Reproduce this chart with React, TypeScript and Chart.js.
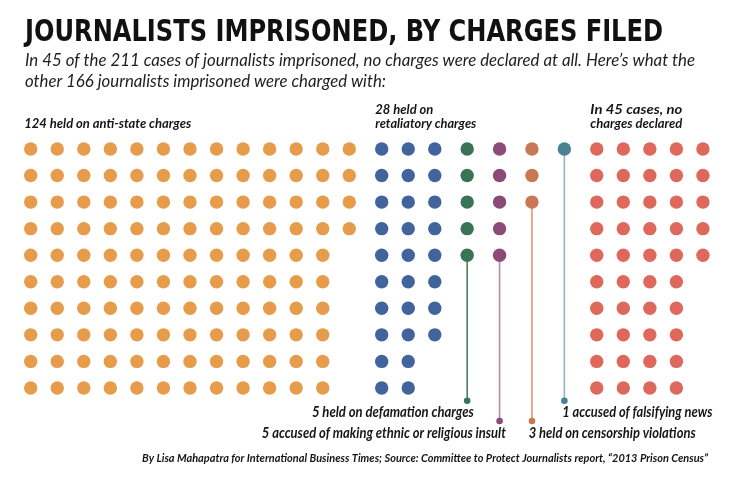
import React, { useEffect, useRef } from "react";
import { Chart, registerables } from "chart.js";
Chart.register(...registerables);

// ---- data ----
const groupNames = ["anti-state", "retaliatory", "defamation", "ethnic or religious insult", "censorship", "falsifying news", "no charges declared"];
const groupCounts = [124, 28, 5, 5, 3, 1, 45];
const groupColors = ["#E69C4B", "#42649C", "#3A7456", "#8C4A76", "#C97856", "#4B8093", "#DE685C"];
const rowsPerColumn = 10;

// call-outs (group index, text, label line 0/1, side)
const calloutGroups = [2, 3, 4, 5];
const calloutTexts = ["5 held on defamation charges", "5 accused of making ethnic or religious insult", "3 held on censorship violations", "1 accused of falsifying news"];
const calloutLevels = [0, 1, 1, 0];
const calloutSides = ["left", "left", "right", "right"];
const calloutLineColors = ["#4E8062", "#B68BA9", "#E2946F", "#92B5C1"];

// header labels above groups
const headerGroups = [0, 1, 6];
const headerTexts = [["124 held on anti-state charges"], ["28 held on", "retaliatory charges"], ["In 45 cases, no", "charges declared"]];

const titleText = "JOURNALISTS IMPRISONED, BY CHARGES FILED";
const subtitleLines = [
  "In 45 of the 211 cases of journalists imprisoned, no charges were declared at all. Here\u2019s what the",
  "other 166 journalists imprisoned were charged with:",
];
const footerText = "By Lisa Mahapatra for International Business Times; Source: Committee to Protect Journalists report, \u201C2013 Prison Census\u201D";

// ---- layout (units = dot pitch) ----
const PITCH = 26.55;
const X0 = 30.7 / PITCH;
const GAP = 1.22;
const Y0 = 149 / PITCH;
const LEVEL_ROWS = [9.48, 10.245];

function groupStarts(): number[] {
  const starts: number[] = [];
  let x = X0;
  groupCounts.forEach((c) => {
    starts.push(x);
    const cols = Math.ceil(c / rowsPerColumn);
    x += cols - 1 + GAP;
  });
  return starts;
}

function fitText(ctx: CanvasRenderingContext2D, text: string, x: number, y: number, width: number | null, align: string) {
  ctx.save();
  const w = ctx.measureText(text).width;
  const s = width ? width / w : 1;
  ctx.translate(x, y);
  ctx.scale(s, 1);
  ctx.textAlign = "left";
  ctx.textBaseline = "alphabetic";
  ctx.fillText(text, align === "right" ? -w : 0, 0);
  ctx.restore();
}

export default function App() {
  const ref = useRef<HTMLCanvasElement>(null);
  useEffect(() => {
    document.body.style.margin = "0";
    const starts = groupStarts();
    const dotSets: any[] = groupCounts.map((count, g) => {
      const pts = [] as { x: number; y: number }[];
      for (let i = 0; i < count; i++) {
        const col = Math.floor(i / rowsPerColumn);
        const row = i % rowsPerColumn;
        pts.push({ x: starts[g] + col, y: Y0 + row });
      }
      return {
        label: groupNames[g],
        data: pts,
        pointRadius: 6.7,
        pointHoverRadius: 6.7,
        pointBackgroundColor: groupColors[g],
        pointBorderWidth: 0,
        showLine: false,
      };
    });
    const lineSets: any[] = calloutGroups.map((g, k) => {
      const count = groupCounts[g];
      return {
        label: groupNames[g] + " line",
        data: [
          { x: starts[g], y: Y0 + (count - 1) },
          { x: starts[g], y: Y0 + LEVEL_ROWS[calloutLevels[k]] },
        ],
        showLine: true,
        borderColor: calloutLineColors[k],
        borderWidth: 1.6,
        pointRadius: [0, 3.3],
        pointHoverRadius: [0, 3.3],
        pointBackgroundColor: groupColors[g],
        pointBorderWidth: 0,
      };
    });

    const textPlugin = {
      id: "texts",
      afterDraw(chart: any) {
        const ctx = chart.ctx as CanvasRenderingContext2D;
        const xs = chart.scales.x;
        ctx.save();
        ctx.fillStyle = "#111";
        ctx.font = 'bold 30px "Liberation Sans Narrow", "DejaVu Sans Condensed", sans-serif';
        fitText(ctx, titleText, 25, 41, 638, "left");

        ctx.fillStyle = "#1e1e1e";
        ctx.font = 'italic 16.5px Lato, "Open Sans", sans-serif';
        fitText(ctx, subtitleLines[0], 25, 66, 670, "left");
        fitText(ctx, subtitleLines[1], 25, 86.5, 361, "left");

        ctx.fillStyle = "#161616";
        ctx.font = 'italic bold 13px Lato, "Open Sans", sans-serif';
        const headerWidths = [[167], [58, 101], [92, 92]];
        headerGroups.forEach((g, k) => {
          const lx = xs.getPixelForValue(starts[g]) - 6.4;
          const lines = headerTexts[k];
          if (lines.length === 1) {
            fitText(ctx, lines[0], lx, 128, headerWidths[k][0], "left");
          } else {
            fitText(ctx, lines[0], lx, 113.5, headerWidths[k][0], "left");
            fitText(ctx, lines[1], lx, 128, headerWidths[k][1], "left");
          }
        });

        ctx.font = 'italic bold 14.5px Lato, "Open Sans", sans-serif';
        const calloutWidths = [162, 244, 167, 150];
        const calloutOffsets = [6.7, 6.3, -3.3, -2];
        const baselines = [417, 438];
        calloutGroups.forEach((g, k) => {
          const px = xs.getPixelForValue(starts[g]) + calloutOffsets[k];
          fitText(ctx, calloutTexts[k], px, baselines[calloutLevels[k]], calloutWidths[k], calloutSides[k] === "left" ? "right" : "left");
        });

        ctx.font = 'italic bold 11px Lato, "Open Sans", sans-serif';
        fitText(ctx, footerText, 708, 461.5, 566, "right");
        ctx.restore();
      },
    };

    const chart = new Chart(ref.current as HTMLCanvasElement, {
      type: "scatter",
      data: { datasets: [...dotSets, ...lineSets] },
      options: {
        animation: false,
        responsive: false,
        maintainAspectRatio: false,
        devicePixelRatio: 1,
        layout: { padding: 0, autoPadding: false },
        plugins: { legend: { display: false }, tooltip: { enabled: false } },
        events: [],
        scales: {
          x: { type: "linear", display: false, min: 0, max: 736 / PITCH },
          y: { type: "linear", display: false, min: 0, max: 480 / PITCH, reverse: true },
        },
      },
      plugins: [textPlugin],
    });
    return () => chart.destroy();
  }, []);
  return (
    <div style={{ position: "absolute", left: 0, top: 0, width: 736, height: 480, background: "#fff" }}>
      <canvas ref={ref} width={736} height={480} style={{ display: "block" }} />
    </div>
  );
}
